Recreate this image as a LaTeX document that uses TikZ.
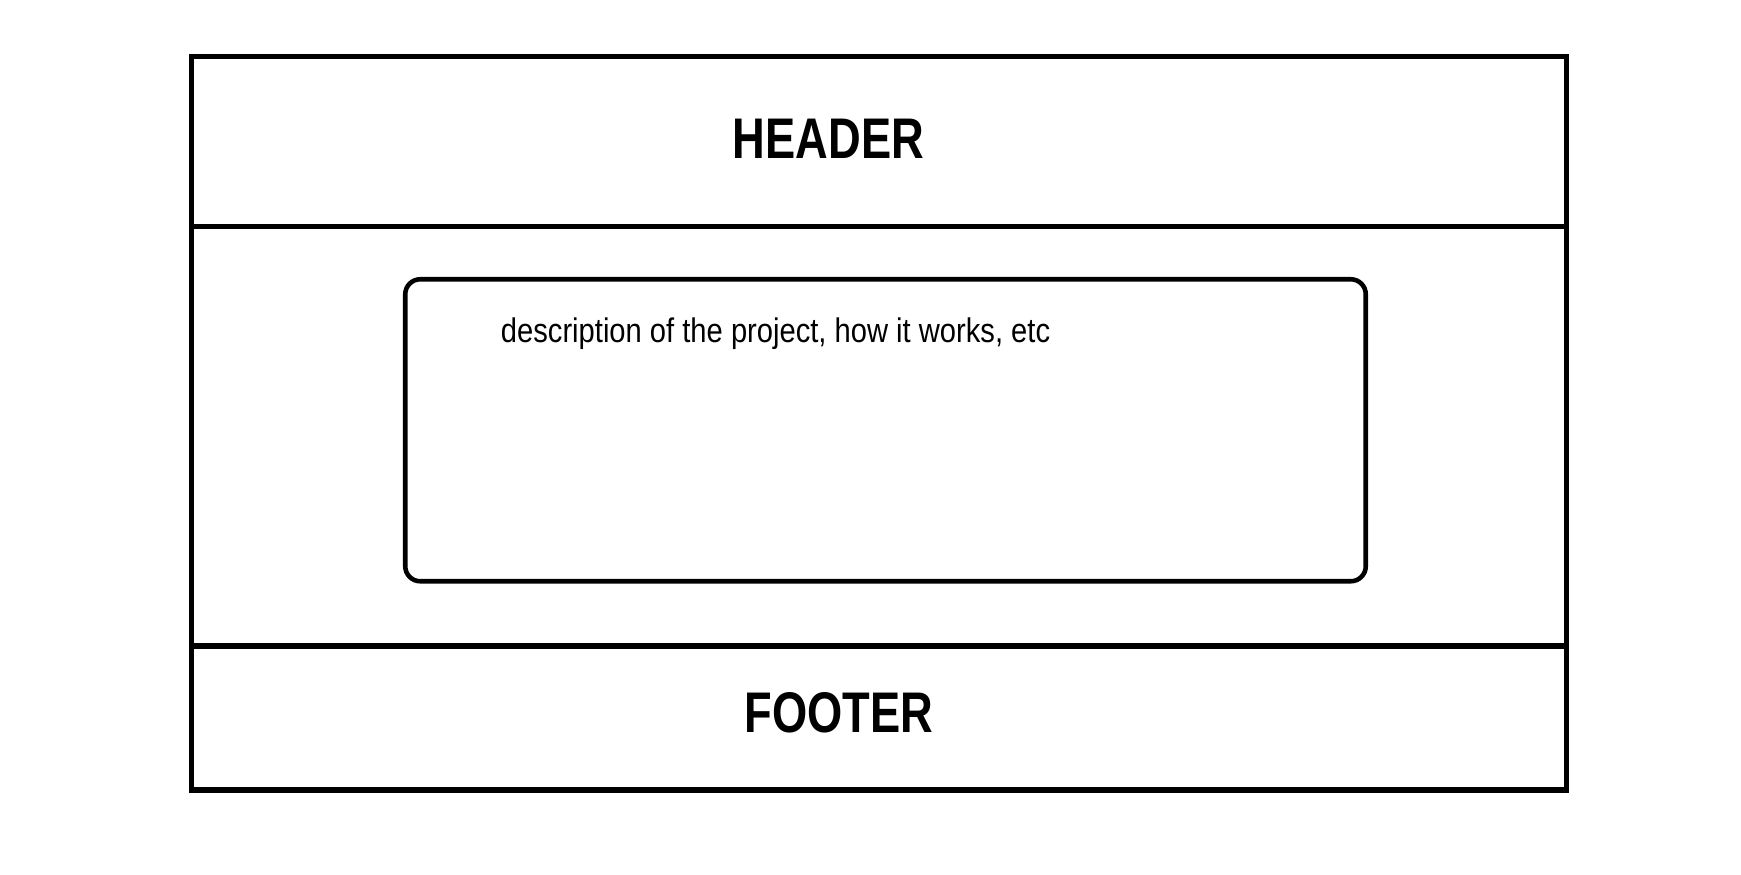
\documentclass[tikz,border=0pt]{standalone}
\usepackage{fontspec}
\setmainfont{Liberation Sans}
\newfontfamily\narrowfont[FakeStretch=0.855]{Liberation Sans}
\newfontfamily\titlefont[FakeStretch=0.79]{Liberation Sans}
\usetikzlibrary{positioning}
\begin{document}
\begin{tikzpicture}
        \tikzstyle{main node}=[draw,line width=1.45pt,inner sep=0pt,outer sep=0pt,minimum width=137.5mm]
        \tikzstyle{title}=[font=\titlefont\bfseries\fontsize{16.3}{18}\selectfont,inner sep=0pt]
        \useasboundingbox (0,0) rectangle (174.1mm,-87.4mm);
        \node[main node,minimum height=17mm] (Header) at (87.9mm,-14.15mm) {};
        \node[main node,minimum height=41.95mm,below=0pt of Header] (Body) {};
        \node[main node,minimum height=14.4mm,below=0pt of Body] (Footer) {};
        \node[draw,line width=1.3pt,rounded corners=1.5mm,inner sep=0pt,outer sep=0pt,minimum width=96.05mm,minimum height=30.2mm] (Content) at ([xshift=0.65mm,yshift=0.6mm]Body.center) {};

        \node[title] (HeaderText) at ([xshift=-5.05mm,yshift=0.3mm]Header.center) {HEADER};
        \node[title] (FooterText) at ([xshift=-4mm,yshift=0.5mm]Footer.center) {FOOTER};
        \node[anchor=base west,inner sep=0pt,font=\narrowfont\fontsize{9.7}{11}\selectfont] (Description) at ([xshift=9.5mm,yshift=-6.3mm]Content.north west) {description of the project, how it works, etc};
    \end{tikzpicture}
\end{document}
